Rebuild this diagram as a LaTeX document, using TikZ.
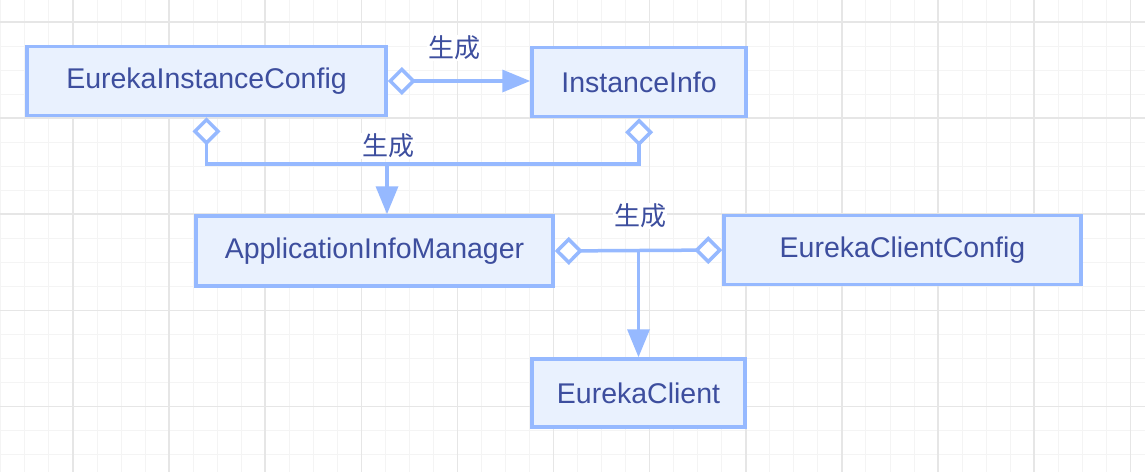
\documentclass[tikz,border=0pt]{standalone}
\usepackage{fontspec}
\setmainfont{Liberation Sans}
\newfontfamily\cjk{Noto Sans CJK SC}
\usetikzlibrary{arrows.meta}
\definecolor{bordc}{HTML}{96B9FF}
\definecolor{fillc}{HTML}{E9F1FE}
\definecolor{txtc}{HTML}{3D4E9E}
\definecolor{gmaj}{HTML}{E6E6E6}
\definecolor{gmin}{HTML}{F4F4F4}
\tikzset{
  box/.style={draw=bordc, fill=fillc, line width=3.5pt, text=txtc, font=\fontsize{28.5}{30}\selectfont, inner sep=0pt},
  conn/.style={draw=bordc, line width=3.5pt},
  dtip/.tip={Diamond[fill=white, length=28pt, width=28pt]},
  atip/.tip={Triangle[length=28pt, width=22pt]},
  lbl/.style={text=txtc, font=\cjk\fontsize{26}{28}\selectfont, fill=white, inner sep=1pt}
}
\begin{document}
\begin{tikzpicture}[x=1pt,y=-1pt]
\useasboundingbox (0,0) rectangle (1145,472);
\fill[white] (0,0) rectangle (1145,472);
% grid
\foreach \i in {0,...,47} {
  \draw[gmin, line width=1pt] ({0.9+24.03*\i},0) -- ({0.9+24.03*\i},472);
}
\foreach \i in {1,...,20} {
  \draw[gmin, line width=1pt] (0,{-2.03+24.03*\i}) -- (1145,{-2.03+24.03*\i});
}
\foreach \i in {0,...,11} {
  \draw[gmaj, line width=1.5pt] ({73+96.12*\i},0) -- ({73+96.12*\i},472);
}
\foreach \i in {0,...,4} {
  \draw[gmaj, line width=1.5pt] (0,{22+96.12*\i}) -- (1145,{22+96.12*\i});
}
% nodes
\node[box, minimum width=359pt, minimum height=69pt] (eic) at (206.5,81) {EurekaInstanceConfig};
\node[box, minimum width=214pt, minimum height=69pt] (ii) at (639,82) {InstanceInfo};
\node[box, minimum width=357pt, minimum height=70pt] (aim) at (374.5,251) {ApplicationInfoManager};
\node[box, minimum width=357pt, minimum height=69pt] (ecc) at (902.5,250) {EurekaClientConfig};
\node[box, minimum width=213pt, minimum height=68pt] (ec) at (638.5,393) {EurekaClient};
\coordinate (j1) at (387,164);
\coordinate (j2) at (638.5,250);
% connectors
\draw[conn, dtip-atip] (eic.east) -- (ii.west |- eic.east);
\draw[conn, dtip-dtip] (eic.south) -- (eic.south |- j1) -- (ii.south |- j1) -- (ii.south);
\draw[conn, -atip] (j1) -- (j1 |- aim.north);
\draw[conn, dtip-dtip] (aim.east) -- (ecc.west);
\draw[conn, -atip] (j2) -- (ec.north);
% labels
\node[lbl] (l1) at (454,48) {生成};
\node[lbl] (l2) at (388,146) {生成};
\node[lbl] (l3) at (640,216) {生成};
\end{tikzpicture}
\end{document}
